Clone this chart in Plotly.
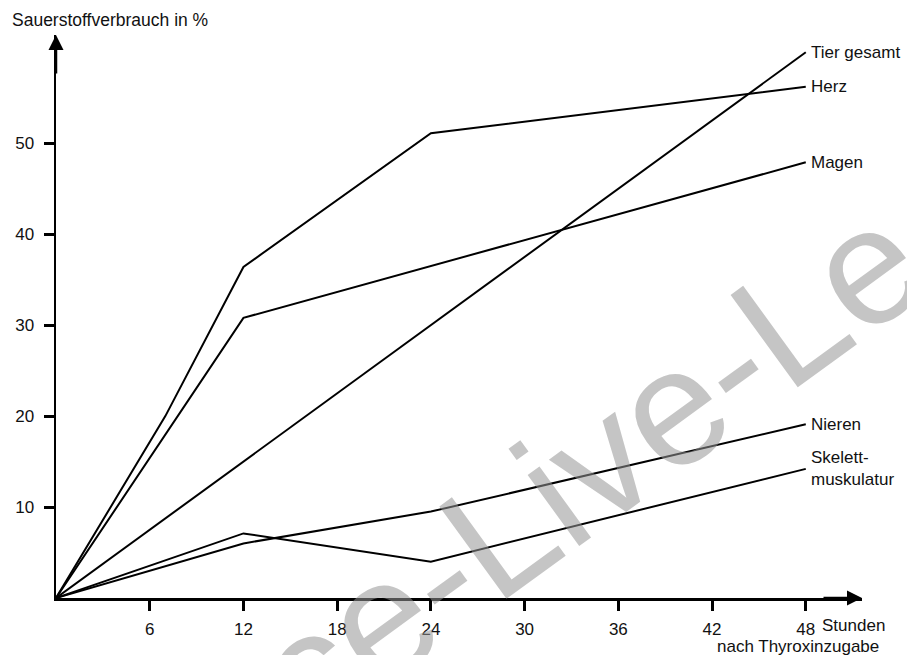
import plotly.graph_objects as go

# ---------------- data ----------------
hours_tier = [0, 48]
tier_gesamt = [0, 60.0]

hours_herz = [0, 7, 12, 24, 48]
herz = [0, 20.0, 36.4, 51.1, 56.2]

hours_magen = [0, 12, 48]
magen = [0, 30.8, 47.9]

hours_nieren = [0, 12, 24, 48]
nieren = [0, 6.0, 9.5, 19.1]

hours_skelett = [0, 12, 24, 48]
skelett = [0, 7.1, 4.0, 14.2]

series = [
    ("Tier gesamt", hours_tier, tier_gesamt),
    ("Herz", hours_herz, herz),
    ("Magen", hours_magen, magen),
    ("Nieren", hours_nieren, nieren),
    ("Skelett-<br>muskulatur", hours_skelett, skelett),
]

x_ticks = [6, 12, 18, 24, 30, 36, 42, 48]
y_ticks = [10, 20, 30, 40, 50]
y_title = "Sauerstoffverbrauch in %"
x_unit = "Stunden"
x_title = "nach Thyroxinzugabe"
watermark = "ce-Live-Le"

# ---------------- layout geometry ----------------
W, H = 907, 655
ML, MR, MT, MB = 56, 45, 35, 57
X_MAX, Y_MAX = 51.6, 61.9
PW, PH = W - ML - MR, H - MT - MB


def px(xp):
    return (xp - ML) / PW


def py(yp):
    return (H - MB - yp) / PH


FONT = "Liberation Sans, Arial, sans-serif"
INK = "#111111"

fig = go.Figure()
for name, xs, ys in series:
    fig.add_trace(go.Scatter(x=xs, y=ys, mode="lines", name=name,
                             line=dict(color="black", width=2),
                             showlegend=False, hoverinfo="skip"))

annotations = []
# watermark (first, so other texts sit above it)
annotations.append(dict(x=px(588), y=py(468), xref="paper", yref="paper",
                        text=watermark, showarrow=False, textangle=-36,
                        xanchor="center", yanchor="middle",
                        font=dict(family=FONT, size=166,
                                  color="rgba(150,150,150,0.55)")))

# line labels at the end of each line
for name, xs, ys in series:
    annotations.append(dict(x=xs[-1], y=ys[-1], xref="x", yref="y",
                            text=name, showarrow=False, xanchor="left",
                            yanchor="middle", xshift=3, align="left",
                            font=dict(family=FONT, size=17, color=INK)))

# axis arrows
annotations.append(dict(x=X_MAX, y=0, xref="x", yref="y", ax=-40, ay=0,
                        text="", showarrow=True, arrowhead=2, arrowsize=1.2,
                        arrowwidth=2.5, arrowcolor="black"))
annotations.append(dict(x=0, y=Y_MAX, xref="x", yref="y", ax=0, ay=40,
                        text="", showarrow=True, arrowhead=2, arrowsize=1.2,
                        arrowwidth=2.5, arrowcolor="black"))

# axis titles
annotations.append(dict(x=px(10), y=py(20), xref="paper", yref="paper",
                        text=y_title, showarrow=False, xanchor="left",
                        yanchor="middle",
                        font=dict(family=FONT, size=17.5, color=INK)))
annotations.append(dict(x=px(820), y=py(626), xref="paper", yref="paper",
                        text=x_unit, showarrow=False, xanchor="left",
                        yanchor="middle",
                        font=dict(family=FONT, size=17, color=INK)))
annotations.append(dict(x=px(881), y=py(646), xref="paper", yref="paper",
                        text=x_title, showarrow=False, xanchor="right",
                        yanchor="middle",
                        font=dict(family=FONT, size=17, color=INK)))

fig.update_layout(
    width=W, height=H,
    margin=dict(l=ML, r=MR, t=MT, b=MB, pad=0),
    paper_bgcolor="white", plot_bgcolor="white",
    annotations=annotations,
    xaxis=dict(range=[0, X_MAX], tickmode="array", tickvals=x_ticks,
               ticktext=[str(v) for v in x_ticks],
               showgrid=False, zeroline=False, showline=True,
               linecolor="black", linewidth=2.5, ticks="outside",
               ticklen=10, tickwidth=3, tickcolor="black",
               ticklabelstandoff=4,
               tickfont=dict(family=FONT, size=17, color=INK)),
    yaxis=dict(range=[0, Y_MAX], tickmode="array", tickvals=y_ticks,
               ticktext=[str(v) for v in y_ticks],
               showgrid=False, zeroline=False, showline=True,
               linecolor="black", linewidth=2.5, ticks="outside",
               ticklen=10, tickwidth=3, tickcolor="black",
               ticklabelstandoff=6,
               tickfont=dict(family=FONT, size=17, color=INK)),
)

fig.write_html(
    "out.html",
    config={"displayModeBar": False, "staticPlot": True},
    post_script="document.body.style.margin='0';"
                "document.body.style.overflow='hidden';",
)
